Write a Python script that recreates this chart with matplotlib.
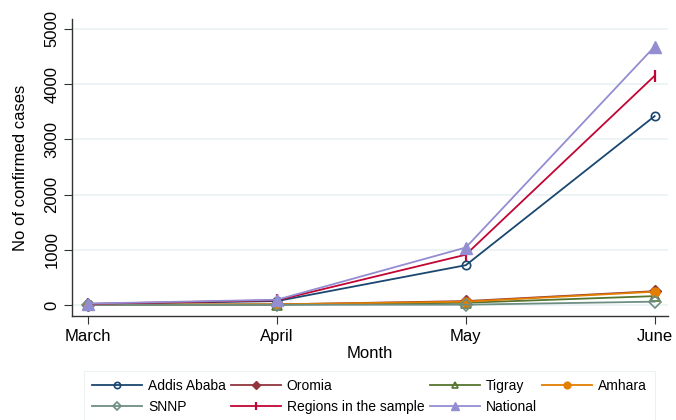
import matplotlib
matplotlib.use("Agg")
import matplotlib.pyplot as plt

plt.rcParams['font.family'] = ['Liberation Sans', 'DejaVu Sans']

months = ["March", "April", "May", "June"]
addis = [15, 70, 720, 3420]
oromia = [2, 10, 70, 250]
tigray = [1, 5, 40, 160]
amhara = [3, 12, 60, 240]
snnp = [0, 3, 5, 60]
regions = [20, 85, 910, 4150]
national = [25, 95, 1040, 4680]

series = [
    ("Addis Ababa", addis, "#1a476f", dict(marker="o", mfc="none", ms=6, mew=1.2)),
    ("Oromia", oromia, "#90353b", dict(marker="D", ms=6)),
    ("Tigray", tigray, "#55752f", dict(marker="^", mfc="none", ms=6.5, mew=1.2)),
    ("Amhara", amhara, "#e37e00", dict(marker="o", ms=6.5)),
    ("SNNP", snnp, "#6e8e84", dict(marker="D", mfc="none", ms=6, mew=1.2)),
    ("Regions in the sample", regions, "#c10534", dict(marker="|", ms=8, mew=1.6)),
    ("National", national, "#938dd2", dict(marker="^", ms=8)),
]

fig = plt.figure(figsize=(6.76, 4.2), dpi=100)
ax = fig.add_axes([0.1065, 0.2476, 0.8815, 0.7074])

x = list(range(len(months)))
handles = {}
for name, vals, col, kw in series:
    h, = ax.plot(x, vals, color=col, lw=1.3, label=name, **kw)
    handles[name] = h

ax.set_xlim(-0.085, 3.07)
ax.set_ylim(-200, 5180)
ax.set_xticks(x)
ax.set_xticklabels(months, fontsize=12)
ax.set_yticks([0, 1000, 2000, 3000, 4000, 5000])
ax.set_yticklabels(["0", "1000", "2000", "3000", "4000", "5000"],
                   fontsize=12, rotation=90, va="center")
ax.set_xlabel("Month", fontsize=12, labelpad=2)
ax.set_ylabel("No of confirmed cases", fontsize=12, labelpad=12)

ax.grid(axis="y", color="#eaf2f3", lw=1.2)
ax.set_axisbelow(True)
for s in ("top", "right"):
    ax.spines[s].set_visible(False)
for s in ("left", "bottom"):
    ax.spines[s].set_color("#333333")
    ax.spines[s].set_linewidth(1.0)
ax.tick_params(direction="out", length=6, color="#333333", pad=3)

# legend entries fill row by row across four columns
order = ["Addis Ababa", "SNNP", "Oromia", "Regions in the sample",
         "Tigray", "National", "Amhara"]
leg = fig.legend([handles[n] for n in order], order,
                 loc="upper left", bbox_to_anchor=(77 / 676, 1 - 364 / 420),
                 ncol=4, fontsize=10, handlelength=3.6, markerscale=0.75,
                 frameon=True, fancybox=False, edgecolor="#e8eef0",
                 borderpad=0.6, labelspacing=0.5, columnspacing=0.4,
                 handletextpad=0.4)
leg.get_frame().set_linewidth(0.8)

fig.savefig("out.png", dpi=100, facecolor="white")
